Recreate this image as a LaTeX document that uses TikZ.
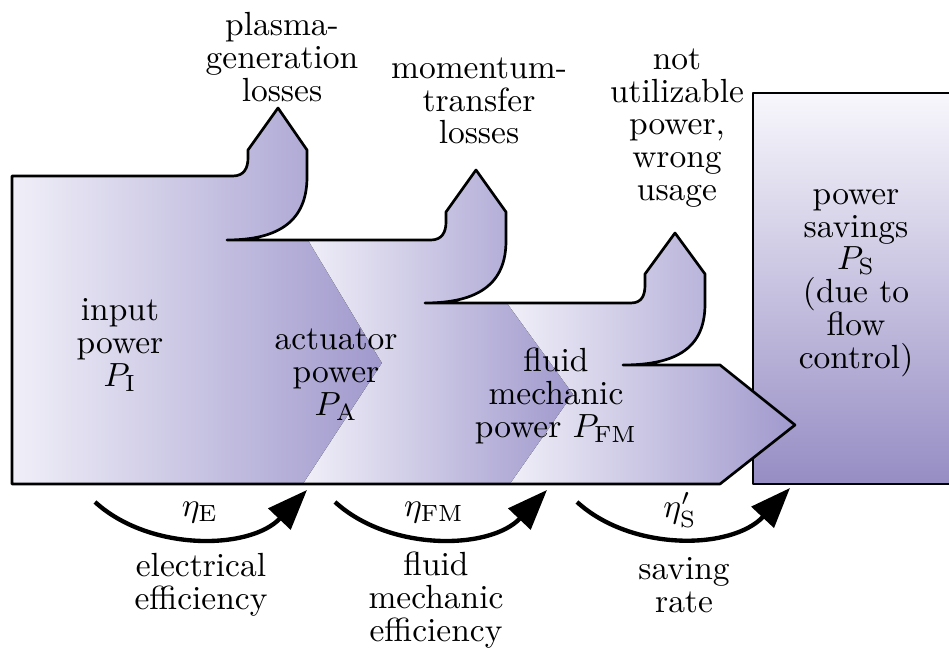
\documentclass[tikz,border=0pt]{standalone}
\usepackage{amsmath}
\usetikzlibrary{arrows.meta}
\definecolor{flowlight}{RGB}{240,239,248}
\definecolor{flowdark}{RGB}{160,153,205}
\definecolor{savetop}{RGB}{248,247,252}
\definecolor{savebottom}{RGB}{150,141,196}

\begin{document}
\begin{tikzpicture}[x=0.0105cm, y=-0.0105cm,
  stage/.style={left color=flowlight, right color=flowdark},
  outline/.style={draw=black, line width=0.8pt, line join=round},
  lbl/.style={font=\fontsize{10}{9.8}\selectfont, align=center, inner sep=0pt},
  effarrow/.style={line width=1.3pt, -{Triangle[length=12pt,width=9pt]}}
]
  \useasboundingbox (0,0) rectangle (949,650);
  %% Power savings box
  \fill[top color=savetop, bottom color=savebottom] (753,93) rectangle (949,484);
  \draw[outline] (949,93) -- (753,93) -- (753,484) -- (949,484);
  %% Stage 1: input power
  \fill[stage] (12,484) -- (12,176) -- (233,176) .. controls (244,176) and (248,168) .. (248,158) -- (248,150) -- (278,108) -- (307,150) -- (307,177) .. controls (307,220) and (280,240) .. (227,240) -- (308,240) -- (382,363) -- (303,484) -- cycle;
  %% Stage 2: actuator power
  \fill[stage] (303,484) -- (382,363) -- (308,240) -- (431,240) .. controls (442,240) and (446,232) .. (446,222) -- (446,212) -- (476,170) -- (506,212) -- (506,241) .. controls (506,284) and (478,303) .. (425,303) -- (507,303) -- (573,394) -- (510,484) -- cycle;
  %% Stage 3: fluid mechanic power
  \fill[stage] (510,484) -- (573,394) -- (507,303) -- (631,303) .. controls (642,303) and (645,295) .. (645,285) -- (645,274) -- (675,233) -- (705,274) -- (705,304) .. controls (705,347) and (678,365) .. (623,365) -- (720,365) -- (795,425) -- (720,484) -- cycle;
  %% Outline of the flow
  \draw[outline] (12,484) -- (12,176) -- (233,176) .. controls (244,176) and (248,168) .. (248,158) -- (248,150) -- (278,108) -- (307,150) -- (307,177) .. controls (307,220) and (280,240) .. (227,240)
    -- (431,240) .. controls (442,240) and (446,232) .. (446,222) -- (446,212) -- (476,170) -- (506,212) -- (506,241) .. controls (506,284) and (478,303) .. (425,303)
    -- (631,303) .. controls (642,303) and (645,295) .. (645,285) -- (645,274) -- (675,233) -- (705,274) -- (705,304) .. controls (705,347) and (678,365) .. (623,365)
    -- (720,365) -- (795,425) -- (720,484) -- cycle;
  %% Losses
  \node[lbl] (plasmaloss) at (282,57) {plasma-\\generation\\losses};
  \node[lbl] (momentumloss) at (479,101) {momentum-\\transfer\\losses};
  \node[lbl] (wrongusage) at (677,128) {not\\utilizable\\power,\\wrong\\usage};
  %% Powers
  \node[lbl] (inputpow) at (120,345) {input\\power\\$P_\mathrm{I}$};
  \node[lbl] (actpow) at (336,375) {actuator\\power\\$P_\mathrm{A}$};
  \node[lbl] (fluidpow) at (556,396) {fluid\\mechanic\\power $P_\mathrm{FM}$};
  \node[lbl] (savings) at (856,283) {power\\savings\\$P_\mathrm{S}$\\(due to\\flow\\control)};
  %% Efficiencies
  \coordinate (effE-a) at (95,502);
  \coordinate (effE-b) at (307,490);
  \coordinate (effFM-a) at (335,502);
  \coordinate (effFM-b) at (547,490);
  \coordinate (effS-a) at (577,502);
  \coordinate (effS-b) at (790,488);
  \draw[effarrow] (effE-a) .. controls (150,552) and (250,550) .. (effE-b);
  \draw[effarrow] (effFM-a) .. controls (390,552) and (490,550) .. (effFM-b);
  \draw[effarrow] (effS-a) .. controls (632,552) and (732,550) .. (effS-b);
  \node[lbl] (etaE) at (200,513) {$\eta_\mathrm{E}$};
  \node[lbl] (etaFM) at (434,513) {$\eta_\mathrm{FM}$};
  \node[lbl] (etaS) at (680,510) {$\eta'_\mathrm{S}$};
  \node[lbl] (eleceff) at (201,585) {electrical\\efficiency};
  \node[lbl] (fmeff) at (436,600) {fluid\\mechanic\\efficiency};
  \node[lbl] (rate) at (684,585) {saving\\rate};
\end{tikzpicture}
\end{document}
